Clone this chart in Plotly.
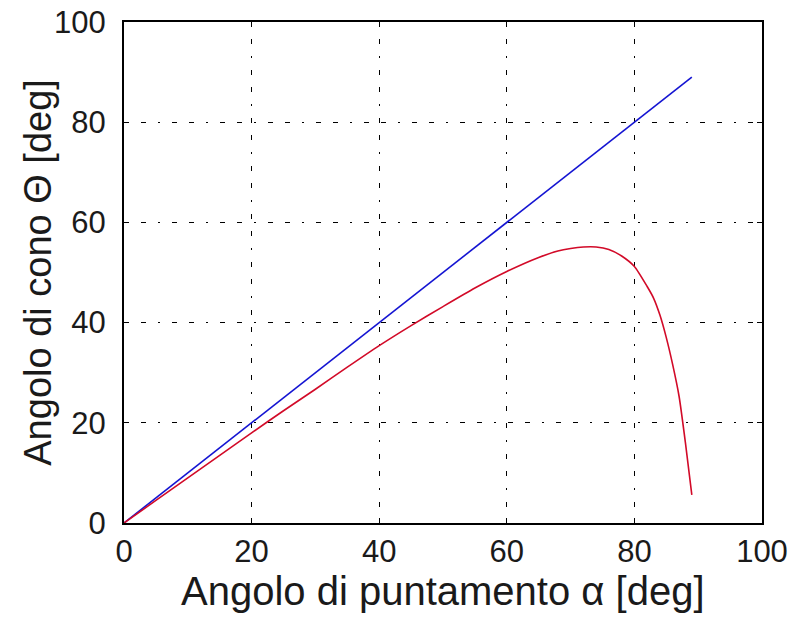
import plotly.graph_objects as go

# Data
alpha_blue = [0, 89]
theta_blue = [0, 89]

alpha_red = [0, 5, 10, 15, 20, 25, 30, 35, 40, 45, 50, 55, 60, 65, 68, 70, 72, 74, 76,
             78, 80, 82, 83, 84, 85, 86, 87, 88, 89]
theta_red = [0, 4.5, 9.0, 13.5, 18.0, 22.4, 26.7, 31.1, 35.4, 39.4, 43.2, 46.9, 50.2,
             53.0, 54.3, 54.8, 55.1, 55.1, 54.6, 53.3, 51.2, 47.2, 44.9, 41.5, 37.0,
             31.6, 25.3, 16.0, 5.6]

x_ticks = [0, 20, 40, 60, 80, 100]
y_ticks = [0, 20, 40, 60, 80, 100]

x_title = "Angolo di puntamento α [deg]"
y_title = "Angolo di cono Θ [deg]"

font_family = "Liberation Sans, Arial, sans-serif"
grid_dash = "5px,12px,5px,12px,2px,12px"
text_color = "#1a1a1a"

fig = go.Figure()
fig.add_trace(go.Scatter(x=alpha_blue, y=theta_blue, mode="lines",
                         line=dict(color="rgb(20,20,210)", width=1.6),
                         showlegend=False))
fig.add_trace(go.Scatter(x=alpha_red, y=theta_red, mode="lines",
                         line=dict(color="rgb(210,10,40)", width=1.6, shape="spline",
                                   smoothing=0.6),
                         showlegend=False))

axis_common = dict(
    showline=True, linecolor="black", linewidth=2, mirror="ticks",
    ticks="inside", ticklen=5, tickcolor="black", tickwidth=1,
    showgrid=True, gridcolor="black", gridwidth=1, griddash=grid_dash,
    zeroline=False, automargin=False, ticklabeloverflow="allow",
    tickfont=dict(family=font_family, size=31, color=text_color),
)

fig.update_xaxes(range=[0, 100], tickvals=x_ticks,
                 ticktext=[str(v) for v in x_ticks],
                 ticklabelstandoff=0,
                 **axis_common)
fig.update_yaxes(range=[0, 100], tickvals=y_ticks,
                 ticktext=[str(v) for v in y_ticks],
                 ticklabelstandoff=10,
                 **axis_common)

# trailing no-break space keeps the closing bracket clear of the text edge
fig.add_annotation(text=x_title + "\u00a0", xref="paper", yref="paper", x=0.509, y=-0.135,
                   xanchor="center", yanchor="middle", showarrow=False,
                   font=dict(family=font_family, size=40, color=text_color))
fig.add_annotation(text=y_title, xref="paper", yref="paper", x=-0.136, y=0.5,
                   xanchor="center", yanchor="middle", showarrow=False, textangle=-90,
                   font=dict(family=font_family, size=38, color=text_color))

# The page body has an 8px margin, so margins are offset to land the plot area
# at the reference position (x 124–762, y 22–523 in the screenshot).
fig.update_layout(
    width=803, height=624,
    margin=dict(l=116, r=49, t=14, b=109, autoexpand=False),
    paper_bgcolor="white", plot_bgcolor="white",
    font=dict(family=font_family),
)

fig.write_html("out.html")
